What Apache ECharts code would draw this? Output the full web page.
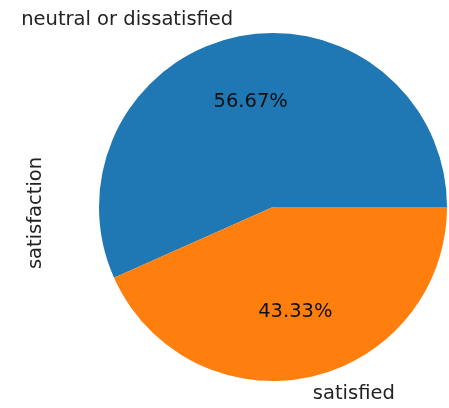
<!DOCTYPE html>
<html>
<head>
<meta charset="utf-8">
<script src="https://cdn.jsdelivr.net/npm/echarts@6/dist/echarts.min.js"></script>
<style>html,body{margin:0;padding:0;background:#fff;}#c{width:449px;height:408px;}</style>
</head>
<body>
<div id="c"></div>
<script>
const categories = ['neutral or dissatisfied', 'satisfied'];
const counts = [58879, 45025];
const colors = ['#1f77b4', '#ff7f0e'];
const axisLabel = 'satisfaction';

const FONT = 'DejaVu Sans';
const FS = 19.5;
const CX = 273, CY = 207, R = 174;

const data = categories.map((n, i) => ({ name: n, value: counts[i], itemStyle: { color: colors[i] } }));
const ghost = categories.map((n, i) => ({ name: n, value: counts[i], label: { padding: [i === 0 ? 8 : 2, 0, 0, 0] } }));

const chart = echarts.init(document.getElementById('c'));
chart.setOption({
  animation: false,
  backgroundColor: '#fff',
  graphic: [{
    type: 'text', x: 36, y: 213, rotation: Math.PI / 2,
    style: { text: axisLabel, font: FS + 'px "' + FONT + '"', fill: '#222', textAlign: 'center', textVerticalAlign: 'middle' }
  }],
  series: [
    {
      type: 'pie', center: [CX, CY], radius: [0, R], startAngle: 0, clockwise: false,
      avoidLabelOverlap: false, silent: true, percentPrecision: 2,
      itemStyle: { borderWidth: 0 },
      label: {
        show: true, position: 'outside', formatter: '{b}', color: '#222',
        fontFamily: FONT, fontSize: FS, distanceToLabelLine: 0, edgeDistance: 0,
        overflow: 'none', bleedMargin: 0, padding: [6, 0, 0, 0]
      },
      labelLine: { show: false, length: R * 0.1, length2: 0 },
      data: data
    },
    {
      type: 'pie', center: [CX, CY], radius: [0, R * 1.2], startAngle: 0, clockwise: false,
      avoidLabelOverlap: false, silent: true, percentPrecision: 2, z: 3,
      itemStyle: { color: 'rgba(0,0,0,0)', borderWidth: 0 },
      label: { show: true, position: 'inside', formatter: '{d}%', color: '#111', fontFamily: FONT, fontSize: FS },
      labelLine: { show: false },
      data: ghost
    }
  ]
});
</script>
</body>
</html>
